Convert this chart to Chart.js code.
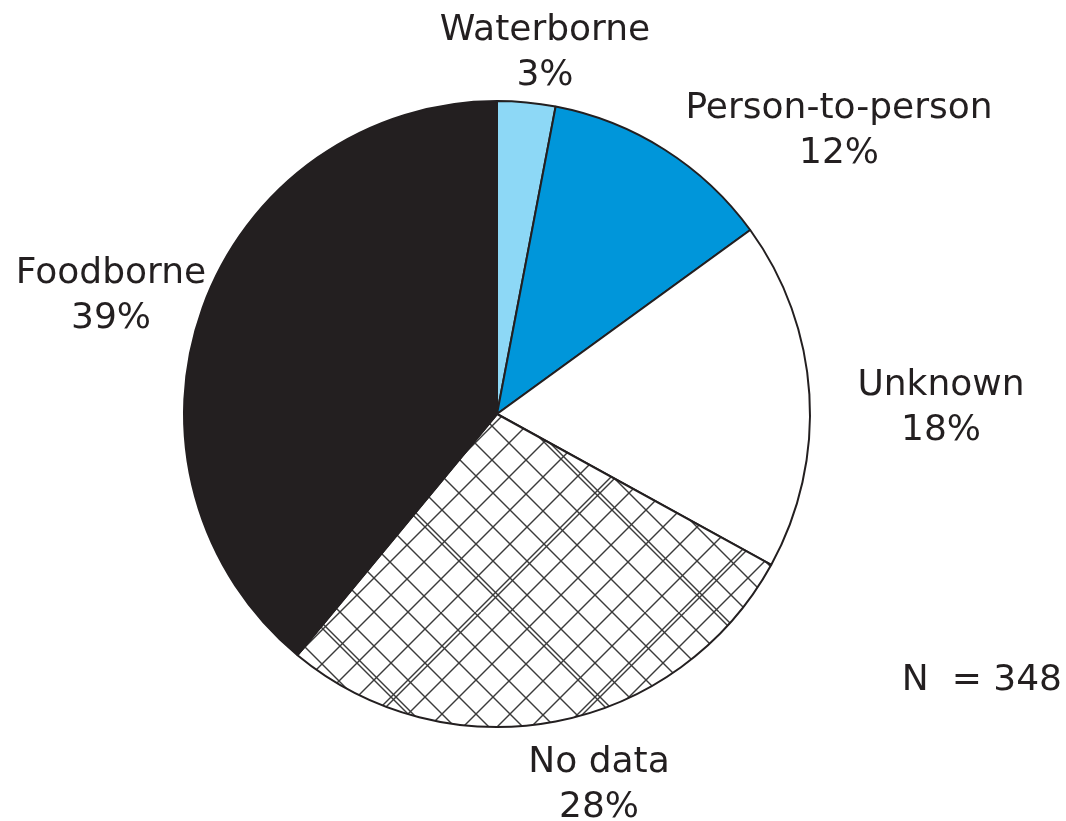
<!DOCTYPE html>
<html>
<head>
<meta charset="utf-8">
<script src="https://cdn.jsdelivr.net/npm/chart.js@4/dist/chart.umd.min.js"></script>
<style>
    html, body { margin: 0; padding: 0; background: #ffffff; }
    #wrap { width: 1066px; height: 821px; }
</style>
</head>
<body>
<div id="wrap"><canvas id="pieChart" width="1066" height="821"></canvas></div>
<script>
// Outbreak transmission mode, N = 348
const categories = ['Waterborne', 'Person-to-person', 'Unknown', 'No data', 'Foodborne'];
const percentValues = [3, 12, 18, 28, 39];
const totalLabel = 'N  = 348';

// label anchor points (center x, first baseline y), layout only
const labelAnchors = [
    [545, 40], [839, 118], [941, 395], [599, 772], [111, 283]
];

const INK = '#231F20';

/**
 * Build the irregular crosshatch used for the "No data" slice
 */
function makeHatch() {
    const T = 204;
    const tile = document.createElement('canvas');
    tile.width = T;
    tile.height = T;
    const g = tile.getContext('2d');
    g.fillStyle = '#ffffff';
    g.fillRect(0, 0, T, T);
    g.strokeStyle = '#3b3b3b';
    g.lineWidth = 1.4;

    const diagA = [0, 34, 68, 73, 102, 136, 170];
    const diagB = [0, 32, 66, 102, 107, 136, 170];

    diagA.forEach(c => {
        [c, c + T].forEach(k => {
            g.beginPath();
            g.moveTo(k, 0);
            g.lineTo(k - T, T);
            g.stroke();
        });
    });
    diagB.forEach(c => {
        [c, c - T].forEach(k => {
            g.beginPath();
            g.moveTo(k, 0);
            g.lineTo(k + T, T);
            g.stroke();
        });
    });
    return g.createPattern(tile, 'repeat');
}

const sliceLabels = {
    id: 'sliceLabels',
    afterDraw(chart) {
        const ctx = chart.ctx;
        ctx.save();
        ctx.fillStyle = INK;
        ctx.font = '36px "DejaVu Sans", sans-serif';
        ctx.textAlign = 'center';
        ctx.textBaseline = 'alphabetic';
        categories.forEach((name, i) => {
            const [x, y] = labelAnchors[i];
            ctx.fillText(name, x, y);
            ctx.fillText(percentValues[i] + '%', x, y + 45);
        });
        ctx.textAlign = 'right';
        ctx.fillText(totalLabel, 1062, 690);
        ctx.restore();
    }
};

function initPieChart() {
    const canvas = document.getElementById('pieChart');
    if (!canvas) {
        console.error('Pie chart canvas not found');
        return;
    }

    new Chart(canvas.getContext('2d'), {
        type: 'pie',
        data: {
            labels: categories,
            datasets: [{
                data: percentValues,
                backgroundColor: ['#8DD8F6', '#0096DA', '#ffffff', makeHatch(), INK],
                borderColor: INK,
                borderWidth: 2
            }]
        },
        options: {
            responsive: false,
            animation: false,
            rotation: 0,
            layout: {
                padding: { top: 100, bottom: 93, left: 183, right: 255 }
            },
            plugins: {
                legend: { display: false },
                tooltip: { enabled: false }
            }
        },
        plugins: [sliceLabels]
    });
}

initPieChart();
</script>
</body>
</html>
